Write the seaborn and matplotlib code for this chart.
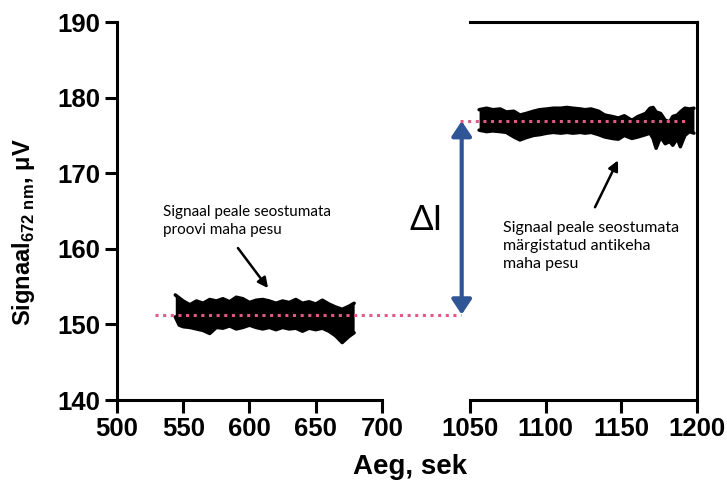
import matplotlib
matplotlib.use("Agg")
import matplotlib.pyplot as plt
import seaborn as sns

# ── Data (upper / lower edge of the noisy trace) ──
seg1_x = [544, 547, 550, 555, 560, 565, 570, 575, 580, 585, 590, 595, 600, 605, 610,
          615, 620, 625, 630, 635, 640, 645, 650, 655, 660, 665, 670, 675, 679]
seg1_top = [153.9, 153.5, 153.1, 152.6, 153.1, 152.8, 153.3, 153.1, 153.4, 153.0,
            153.6, 153.4, 152.9, 153.2, 153.3, 153.1, 152.8, 153.1, 152.9, 153.3,
            152.8, 153.0, 152.7, 153.2, 152.7, 152.3, 152.0, 152.4, 152.8]
seg1_bot = [151.0, 149.9, 149.7, 149.6, 149.4, 149.2, 148.8, 149.6, 149.5, 149.8,
            149.4, 149.6, 149.9, 149.6, 149.4, 149.6, 149.3, 149.6, 149.4, 149.5,
            149.1, 149.5, 149.3, 149.5, 149.1, 148.5, 147.6, 148.4, 148.9]

seg2_x = [1056, 1061, 1065, 1070, 1074, 1079, 1083, 1087, 1092, 1096, 1101, 1105,
          1110, 1114, 1118, 1123, 1126, 1130, 1135, 1139, 1144, 1148, 1152, 1157,
          1161, 1166, 1169, 1171, 1173, 1176, 1179, 1182, 1184, 1187, 1189, 1192,
          1195, 1198]
seg2_top = [178.4, 178.6, 178.4, 178.5, 178.1, 178.2, 177.7, 177.9, 178.2, 178.4,
            178.5, 178.6, 178.6, 178.7, 178.6, 178.5, 178.4, 178.5, 178.2, 177.7,
            177.5, 177.3, 177.6, 177.0, 177.5, 177.9, 178.6, 178.7, 178.1, 177.9,
            177.0, 176.8, 177.5, 177.7, 178.1, 178.6, 178.5, 178.6]
seg2_bot = [175.7, 175.5, 175.6, 175.5, 175.4, 174.8, 174.4, 174.7, 175.0, 175.1,
            175.3, 175.4, 175.3, 175.4, 175.3, 175.4, 175.3, 175.4, 175.1, 174.8,
            174.6, 174.5, 175.0, 174.6, 174.8, 175.1, 175.3, 174.6, 173.3, 174.8,
            173.9, 174.2, 173.7, 174.6, 173.5, 175.0, 175.5, 175.3]

level_low = 151.3    # baseline after sample wash
level_high = 176.9   # baseline after labelled antibody wash

x1_ticks = [500, 550, 600, 650, 700]
x2_ticks = [1050, 1100, 1150, 1200]
y_ticks = [140, 150, 160, 170, 180, 190]

# ── Style ────────────────────────────────────────────────────
sns.set_style("ticks")
plt.rcParams["font.family"] = ["Liberation Sans", "DejaVu Sans"]
plt.rcParams["text.color"] = "black"
plt.rcParams["axes.labelcolor"] = "black"
plt.rcParams["xtick.color"] = "black"
plt.rcParams["ytick.color"] = "black"
ANN_FONT = ["Lato", "DejaVu Sans"]
PINK = "#E05A85"
BLUE = "#2F5597"
LW = 2.2

fig = plt.figure(figsize=(7.27, 4.87), dpi=100)
ax1 = fig.add_axes([0.1609, 0.1786, 0.3645, 0.7762])
ax2 = fig.add_axes([0.6465, 0.1786, 0.3122, 0.7762])

# ── Traces ───────────────────────────────────────────────────
for ax, xs, top, bot in [(ax1, seg1_x, seg1_top, seg1_bot),
                         (ax2, seg2_x, seg2_top, seg2_bot)]:
    ax.fill_between(xs, bot, top, color="black", lw=0)
    sns.lineplot(x=xs, y=top, ax=ax, color="black", lw=2.5, legend=False)
    sns.lineplot(x=xs, y=bot, ax=ax, color="black", lw=2.5, legend=False)

# ── Axes ─────────────────────────────────────────────────────
ax1.set_xlim(500, 700)
ax2.set_xlim(1050, 1200)
for ax in (ax1, ax2):
    ax.set_ylim(140, 190)
    ax.set_xlabel("")
    for sp in ax.spines.values():
        sp.set_linewidth(LW)
        sp.set_color("black")
    ax.tick_params(axis="both", which="major", width=LW, length=9,
                   color="black", labelcolor="black", labelsize=18.5, pad=3)
    ax.tick_params(axis="x", which="minor", direction="in", width=LW, length=6,
                   color="black")

ax1.set_xticks(x1_ticks)
ax1.set_xticks([700], minor=True)
ax1.set_yticks(y_ticks)
ax1.spines["top"].set_visible(False)
ax1.spines["right"].set_visible(False)

ax2.set_xticks(x2_ticks)
ax2.set_xticks([1050], minor=True)
ax2.set_yticks([])
ax2.spines["left"].set_visible(False)
ax2.spines["top"].set_visible(True)
ax2.spines["right"].set_visible(True)

for ax in (ax1, ax2):
    for lab in ax.get_xticklabels() + ax.get_yticklabels():
        lab.set_fontweight("bold")

ax1.set_ylabel(r"Signaal$_{\mathregular{672\ nm}}$, μV", fontsize=17,
               fontweight="bold", color="black")
ax1.yaxis.set_label_coords(-0.30, 0.445)
fig.text(410 / 727, 1 - 467 / 487, "Aeg, sek", ha="center", va="center",
         fontsize=20, fontweight="bold", color="black")

# ── Baselines and ΔI ────────────────────────────────────────
ax1.plot([529, 760], [level_low, level_low], color=PINK, lw=2.2,
         linestyle=(0, (1, 1.5)), clip_on=False, zorder=5)
ax2.plot([1043.5, 1193], [level_high, level_high], color=PINK, lw=2.2,
         linestyle=(0, (1, 1.5)), clip_on=False, zorder=5)

ax2.annotate("", xy=(1044.5, level_high), xytext=(1044.5, level_low),
             arrowprops=dict(arrowstyle="<|-|>,head_length=0.9,head_width=0.6",
                             color=BLUE, lw=3, shrinkA=0, shrinkB=0),
             annotation_clip=False)
ax2.text(1020.9, 163.8, "ΔI", ha="center", va="center", fontsize=25,
         family=ANN_FONT, color="black", clip_on=False)

# ── Text annotations ─────────────────────────────────────────
ax1.text(534.7, 165.8, "Signaal peale seostumata\nproovi maha pesu",
         ha="left", va="top", fontsize=11, family=ANN_FONT, linespacing=1.35,
         color="black")
ax1.annotate("", xy=(614, 154.8), xytext=(591.3, 160.1),
             arrowprops=dict(arrowstyle="-|>,head_length=0.6,head_width=0.3",
                             color="black", lw=1.8, shrinkA=0, shrinkB=0))

ax2.text(1071.8, 163.7, "Signaal peale seostumata\nmärgistatud antikeha\nmaha pesu",
         ha="left", va="top", fontsize=11.5, family=ANN_FONT, linespacing=1.35,
         color="black")
ax2.annotate("", xy=(1147.8, 171.7), xytext=(1132.6, 165.5),
             arrowprops=dict(arrowstyle="-|>,head_length=0.6,head_width=0.3",
                             color="black", lw=1.8, shrinkA=0, shrinkB=0))

fig.savefig("out.png", dpi=100)
